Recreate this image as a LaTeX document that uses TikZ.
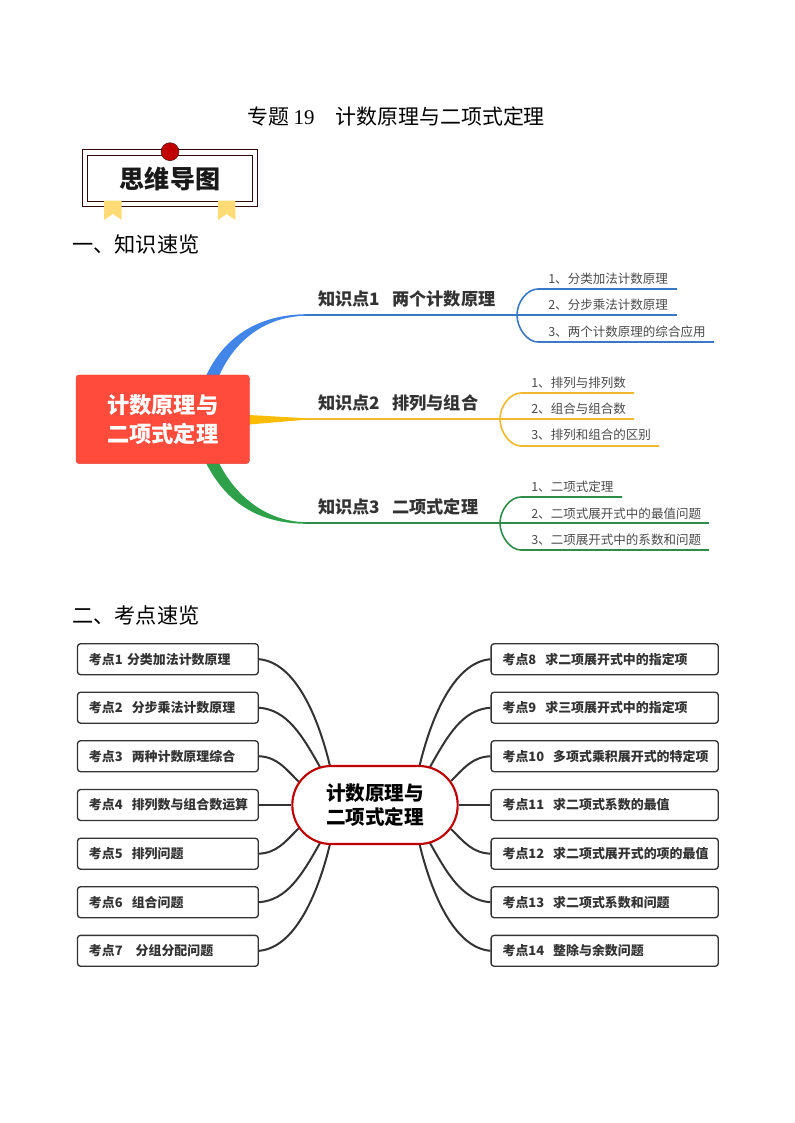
\documentclass[tikz,border=0pt]{standalone}
\usepackage{fontspec}
\setmainfont{Noto Sans CJK SC}
\newfontfamily\latinserif{Liberation Serif}
\definecolor{bluetrunk}{HTML}{4285E8}
\definecolor{bluesub}{HTML}{3B78C4}
\definecolor{yellowtrunk}{HTML}{FBBC05}
\definecolor{yellowsub}{HTML}{F0B92B}
\definecolor{greentrunk}{HTML}{2EA04A}
\definecolor{greensub}{HTML}{2E8B4A}
\definecolor{mainred}{HTML}{FF4B3C}
\definecolor{darktext}{HTML}{333333}
\definecolor{subtext}{HTML}{4A4A4A}
\definecolor{hubred}{HTML}{C00000}
\definecolor{ribbon}{HTML}{FFDB75}
\definecolor{framedark}{HTML}{300808}
\tikzset{
  x=0.75pt,y=-0.75pt,
  plaintext/.style={inner sep=0pt,font=\fontsize{15.7}{19}\selectfont,text=black},
  sectionhead/.style={plaintext,anchor=west,font=\fontsize{15.9}{19}\selectfont},
  kbranch/.style={inner sep=0pt,anchor=west,font=\bfseries\fontsize{12.9}{15}\selectfont,text=darktext},
  ksub/.style={inner sep=0pt,anchor=west,font=\fontsize{9.4}{12}\selectfont,text=subtext},
  sublink/.style={line width=1.2pt},
  trunkline/.style={line width=1.2pt},
  kaobox/.style={draw=darktext,line width=1pt,rounded corners=2.25pt,fill=white,
    minimum height=23.2pt,inner xsep=8.6pt,inner ysep=0pt,align=left,
    font=\bfseries\fontsize{9.7}{12}\selectfont,text=darktext,text height=8.6pt,text depth=1.2pt},
  leftbox/.style={kaobox,text width=118.4pt},
  rightbox/.style={kaobox,text width=153.2pt},
  hublink/.style={draw=darktext,line width=1.5pt}
}
\begin{document}
\begin{tikzpicture}
\useasboundingbox (0,0) rectangle (794,1123);
% heading texts
\node[plaintext] (title) at (396,117) {专题 {\latinserif 19}\hspace{1em}计数原理与二项式定理};
\node[sectionhead] (head1) at (72,244.5) {一、知识速览};
\node[sectionhead] (head2) at (72,615.5) {二、考点速览};
% banner
\draw[framedark,line width=0.7pt] (82.3,149.3) rectangle (257.7,206.3);
\draw[framedark,line width=0.7pt] (87,155.3) rectangle (252.7,201.3);
\fill[ribbon] (104,200.7) -- (121.7,200.7) -- (121.7,220) -- (112.8,214) -- (104,220) -- cycle;
\fill[ribbon] (218,200.7) -- (235.3,200.7) -- (235.3,220) -- (226.6,214) -- (218,220) -- cycle;
\node[circle,fill=hubred,draw=framedark,line width=0.3pt,minimum size=13.5pt,inner sep=0pt] (seal) at (170,151.7) {};
\node[inner sep=0pt,font=\bfseries\fontsize{18.8}{22}\selectfont,text=black!90] (banner) at (170,179) {思维导图};
% coordinates of the knowledge map
\coordinate (bj1) at (517,315);
\coordinate (bj2) at (500,419);
\coordinate (bj3) at (500,523);
\coordinate (bt1) at (305,315);
\coordinate (bt2) at (305,419);
\coordinate (bt3) at (305,523);
% trunks
\fill[bluetrunk] (206,376) .. controls (225,335) and (260,315) .. (305,314.2) -- (bt1) -- (305,315.8) .. controls (265,317) and (235,340) .. (219,376) -- cycle;
\fill[yellowtrunk] (249,415) -- (305,418.2) -- (bt2) -- (305,419.8) -- (249,424.5) -- cycle;
\fill[greentrunk] (206,463) .. controls (225,500) and (255,523) .. (305,523.8) -- (bt3) -- (305,522.2) .. controls (265,521) and (235,495) .. (219,463) -- cycle;
\draw[bluesub,trunkline] (bt1) -- (bj1);
\draw[yellowsub,trunkline] (bt2) -- (bj2);
\draw[greensub,trunkline] (bt3) -- (bj3);
% main node
\node[fill=mainred,draw=mainred!90!black,line width=0.3pt,rounded corners=2.25pt,minimum width=130pt,minimum height=66.5pt,inner sep=0pt,align=center,
  font=\bfseries\fontsize{16.7}{21.7}\selectfont,text=white] (main) at (162.7,419.3) {计数原理与\\二项式定理};
% branch labels
\node[kbranch] (k1) at (318,298.5) {知识点1\hspace{0.7em}两个计数原理};
\node[kbranch] (k2) at (318,403) {知识点2\hspace{0.7em}排列与组合};
\node[kbranch] (k3) at (318,507) {知识点3\hspace{0.7em}二项式定理};
% blue subs
\coordinate (a1) at (677,289);
\coordinate (a2) at (677,315);
\coordinate (a3) at (714,342);
\draw[bluesub,sublink] (bj1) .. controls +(0,-13) and +(-11,0) .. (538,289) -- (a1);
\draw[bluesub,sublink] (bj1) -- (a2);
\draw[bluesub,sublink] (bj1) .. controls +(0,13) and +(-11,0) .. (538,342) -- (a3);
\node[ksub] (a1t) at (548,279) {1、分类加法计数原理};
\node[ksub] (a2t) at (548,305) {2、分步乘法计数原理};
\node[ksub] (a3t) at (548,331.5) {3、两个计数原理的综合应用};
% yellow subs
\coordinate (b1) at (634,393);
\coordinate (b2) at (634,419);
\coordinate (b3) at (659,446);
\draw[yellowsub,sublink] (bj2) .. controls +(0,-13) and +(-11,0) .. (521,393) -- (b1);
\draw[yellowsub,sublink] (bj2) -- (b2);
\draw[yellowsub,sublink] (bj2) .. controls +(0,13) and +(-11,0) .. (521,446) -- (b3);
\node[ksub] (b1t) at (531,382.5) {1、排列与排列数};
\node[ksub] (b2t) at (531,409) {2、组合与组合数};
\node[ksub] (b3t) at (531,435) {3、排列和组合的区别};
% green subs
\coordinate (c1) at (622,497);
\coordinate (c2) at (709,523);
\coordinate (c3) at (709,550);
\draw[greensub,sublink] (bj3) .. controls +(0,-13) and +(-11,0) .. (521,497) -- (c1);
\draw[greensub,sublink] (bj3) -- (c2);
\draw[greensub,sublink] (bj3) .. controls +(0,13) and +(-11,0) .. (521,550) -- (c3);
\node[ksub] (c1t) at (531,487) {1、二项式定理};
\node[ksub] (c2t) at (531,513.5) {2、二项式展开式中的最值问题};
\node[ksub] (c3t) at (531,539.5) {3、二项展开式中的系数和问题};
% exam point boxes
\node[leftbox] (l1) at (167.9,659.2) {\mbox{考点1 分类加法计数原理}};
\node[leftbox] (l2) at (167.9,707.7) {\mbox{考点2\hspace{0.7em}分步乘法计数原理}};
\node[leftbox] (l3) at (167.9,756.2) {\mbox{考点3\hspace{0.7em}两种计数原理综合}};
\node[leftbox] (l4) at (167.9,805) {\mbox{考点4\hspace{0.7em}排列数与组合数运算}};
\node[leftbox] (l5) at (167.9,853.7) {\mbox{考点5\hspace{0.7em}排列问题}};
\node[leftbox] (l6) at (167.9,902.2) {\mbox{考点6\hspace{0.7em}组合问题}};
\node[leftbox] (l7) at (167.9,950.8) {\mbox{考点7\hspace{1em}分组分配问题}};
\node[rightbox] (r1) at (604.7,659.2) {\mbox{考点8\hspace{0.7em}求二项展开式中的指定项}};
\node[rightbox] (r2) at (604.7,707.7) {\mbox{考点9\hspace{0.7em}求三项展开式中的指定项}};
\node[rightbox] (r3) at (604.7,756.2) {\mbox{考点10\hspace{0.7em}多项式乘积展开式的特定项}};
\node[rightbox] (r4) at (604.7,805) {\mbox{考点11\hspace{0.7em}求二项式系数的最值}};
\node[rightbox] (r5) at (604.7,853.7) {\mbox{考点12\hspace{0.7em}求二项式展开式的项的最值}};
\node[rightbox] (r6) at (604.7,902.2) {\mbox{考点13\hspace{0.7em}求二项式系数和问题}};
\node[rightbox] (r7) at (604.7,950.8) {\mbox{考点14\hspace{0.7em}整除与余数问题}};
% hub attachment points
\coordinate (h1) at (330,766);
\coordinate (h2) at (320,767);
\coordinate (h3) at (298.7,781.7);
\coordinate (h5) at (298.7,828.3);
\coordinate (h6) at (320,843);
\coordinate (h7) at (330,844);
\coordinate (g1) at (419.5,766);
\coordinate (g2) at (430,767);
\coordinate (g3) at (451,781);
\coordinate (g5) at (451,829);
\coordinate (g6) at (430,843);
\coordinate (g7) at (419.5,844);
% hub links
\draw[hublink] (l1.east) .. controls +(36,3) and +(-12,-50) .. (h1);
\draw[hublink] (l2.east) .. controls +(28,2) and +(-18,-32) .. (h2);
\draw[hublink] (l3.east) .. controls +(18,1) and +(-14,-14) .. (h3);
\draw[hublink] (l5.east) .. controls +(18,-1) and +(-14,14) .. (h5);
\draw[hublink] (l6.east) .. controls +(28,-2) and +(-18,32) .. (h6);
\draw[hublink] (l7.east) .. controls +(36,-3) and +(-12,50) .. (h7);
\draw[hublink] (r1.west) .. controls +(-36,3) and +(12,-50) .. (g1);
\draw[hublink] (r2.west) .. controls +(-28,2) and +(18,-32) .. (g2);
\draw[hublink] (r3.west) .. controls +(-18,1) and +(14,-14) .. (g3);
\draw[hublink] (r5.west) .. controls +(-18,-1) and +(14,14) .. (g5);
\draw[hublink] (r6.west) .. controls +(-28,-2) and +(18,32) .. (g6);
\draw[hublink] (r7.west) .. controls +(-36,-3) and +(12,50) .. (g7);
% hub
\node[fill=white,draw=hubred,line width=1.6pt,rounded corners=29pt,minimum width=124pt,minimum height=58.5pt,inner sep=0pt,align=center,
  font=\bfseries\fontsize{14.7}{18}\selectfont,text=black] (hub) at (375,805) {计数原理与\\二项式定理};
\draw[hublink] (l4.east) -- (hub.west);
\draw[hublink] (r4.west) -- (hub.east);
\end{tikzpicture}
\end{document}
